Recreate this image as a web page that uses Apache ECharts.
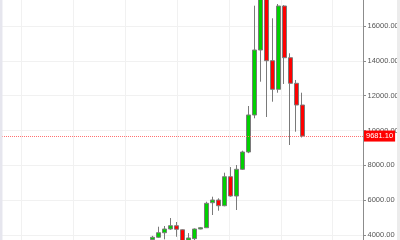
<!DOCTYPE html>
<html><head><meta charset="utf-8">
<script src="https://cdn.jsdelivr.net/npm/echarts@6/dist/echarts.min.js"></script>
<style>html,body{margin:0;padding:0;background:#fff}#c{width:400px;height:240px}</style>
</head><body><div id="c"></div>
<script>
const dates  = ['2017-08-03','2017-08-10','2017-08-17','2017-08-24','2017-08-31','2017-09-07','2017-09-14','2017-09-21','2017-09-28','2017-10-05','2017-10-12','2017-10-19','2017-10-26','2017-11-02','2017-11-09','2017-11-16','2017-11-23','2017-11-30','2017-12-07','2017-12-14','2017-12-21','2017-12-28','2018-01-04','2018-01-11','2018-01-18','2018-01-25'];
const opens  = [3740,3870,4130,4344,4533,4300,3700,3790,4344,4418,5854,6009,5682,7347,6239,7772,8765,10890,14622,18500,14008,12365,17148,14180,12710,11464];
const closes = [3870,4130,4344,4533,4327,3650,3830,4344,4418,5820,6009,5682,7347,6239,7772,8765,10890,14622,18500,14008,12365,17148,14180,12710,11464,9681.1];
const lows   = [3650,3830,3750,4300,3900,3500,3600,3700,4330,4400,5148,5395,5650,6200,5435,7732,8700,10700,12802,10775,11653,12170,12670,9167,9931,9600];
const highs  = [3950,4476,4516,4975,4746,4330,4110,4380,4460,5912,6199,6107,7577,7900,8019,8840,11406,17166,19800,19500,16442,17263,17200,14432,12900,12170];

const toTs = d => Date.parse(d + 'T00:00:00Z');
const candles = dates.map((d, i) => [toTs(d), opens[i], closes[i], lows[i], highs[i]]);
const lastClose = closes[closes.length - 1];

const chart = echarts.init(document.getElementById('c'), null, {renderer: 'canvas'});
chart.setOption({
  useUTC: true,
  animation: false,
  backgroundColor: '#ffffff',
  grid: {left: 0, right: 37, top: -8.83, bottom: -29.83, containLabel: false, outerBoundsMode: 'none'},
  xAxis: {
    type: 'time',
    min: Date.parse('2017-02-04T10:00:00Z'),
    max: Date.parse('2018-04-06T12:00:00Z'),
    splitNumber: 6,
    axisLine: {show: false},
    axisTick: {show: false},
    axisLabel: {show: false},
    splitLine: {show: true, lineStyle: {color: '#f1f1f1', width: 1}}
  },
  yAxis: {
    type: 'value',
    position: 'right',
    min: 2000, max: 18000, interval: 2000,
    axisLine: {show: true, lineStyle: {color: '#8c8c8c', width: 1}},
    axisTick: {show: true, length: 3, lineStyle: {color: '#8c8c8c'}},
    axisLabel: {color: '#555', fontSize: 7.5, fontFamily: 'Liberation Sans, Arial, sans-serif', margin: 4.5,
      formatter: v => v.toFixed(2)},
    splitLine: {show: true, lineStyle: {color: '#f1f1f1', width: 1}}
  },
  graphic: [
    {type: 'rect', left: 0, top: 0, shape: {width: 2.5, height: 240}, style: {fill: '#e6e6ee'}, z: 100},
    {type: 'rect', left: 397, top: 0, shape: {width: 3, height: 240}, style: {fill: '#ececec'}, z: 100}
  ],
  series: [{
    type: 'candlestick',
    data: candles,
    encode: {x: 0, y: [1, 2, 3, 4]},
    barWidth: 4.5,
    itemStyle: {color: '#00d000', color0: '#ff0000', borderColor: '#7a7a7a', borderColor0: '#7a7a7a', borderWidth: 1},
    markLine: {
      symbol: 'none', silent: true, animation: false,
      data: [{yAxis: lastClose}],
      lineStyle: {color: '#ff7070', type: 'dotted', width: 1},
      label: {position: 'end', distance: 1, formatter: p => p.value.toFixed(2), color: '#ffffff',
        backgroundColor: '#ff0000', padding: [2, 2, 1, 2], fontSize: 7.5, fontFamily: 'Liberation Sans, Arial, sans-serif'}
    }
  }]
});
</script></body></html>
